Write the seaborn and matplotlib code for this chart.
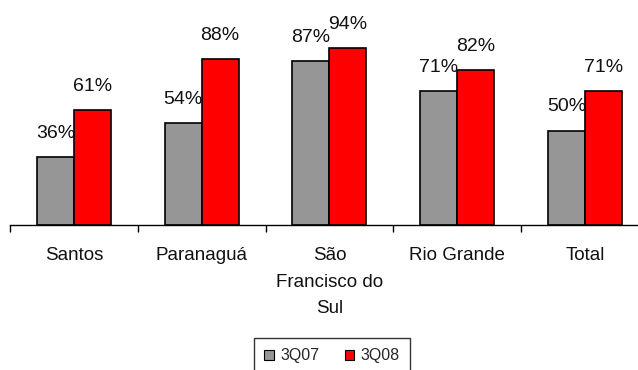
import matplotlib
matplotlib.use("Agg")
import matplotlib.pyplot as plt
import seaborn as sns
import pandas as pd
from matplotlib.ticker import FixedLocator

ports = ["Santos", "Paranaguá", "São\nFrancisco do\nSul", "Rio Grande", "Total"]
series_names = ["3Q07", "3Q08"]
vals_3q07 = [36, 54, 87, 71, 50]
vals_3q08 = [61, 88, 94, 82, 71]
colors = ["#969696", "#FF0000"]

df = pd.DataFrame({
    "port": ports * 2,
    "period": [series_names[0]] * len(ports) + [series_names[1]] * len(ports),
    "value": vals_3q07 + vals_3q08,
})

sns.set_style("white")
plt.rcParams["font.family"] = ["Liberation Sans", "DejaVu Sans"]

W, H = 638, 370
fig = plt.figure(figsize=(W / 100, H / 100), dpi=100)
axis_y = 225
group_w = 127.75
left_px = 10
ax = fig.add_axes([left_px / W, (H - axis_y) / H, 5 * group_w / W, axis_y / H])

sns.barplot(data=df, x="port", y="value", hue="period", order=ports,
            hue_order=series_names, palette=colors, width=0.58, gap=0,
            errorbar=None, edgecolor="black", linewidth=1.2, ax=ax,
            legend=True, saturation=1)

ax.set_xlim(-0.5, 4.5)
ax.set_ylim(0, axis_y / 1.885)
for c, vals in zip(ax.containers, [vals_3q07, vals_3q08]):
    ax.bar_label(c, labels=[f"{v}%" for v in vals], padding=11, fontsize=14,
                 color="#111111", clip_on=False)

for s in ["left", "right", "top"]:
    ax.spines[s].set_visible(False)
ax.spines["bottom"].set_color("black")
ax.spines["bottom"].set_linewidth(1.0)
ax.set_yticks([])
ax.set_xlabel("")
ax.set_ylabel("")
ax.xaxis.set_minor_locator(FixedLocator([-0.5, 0.5, 1.5, 2.5, 3.5, 4.5]))
ax.tick_params(axis="x", which="major", length=0, pad=16, labelsize=13.5,
               labelcolor="#111111")
ax.tick_params(axis="x", which="minor", length=5, width=1.0, color="black",
               direction="out", bottom=True)
for t in ax.get_xticklabels():
    t.set_linespacing(1.72)
    t.set_verticalalignment("top")

handles, labels = ax.get_legend_handles_labels()
ax.get_legend().remove()
leg = fig.legend(handles, labels, loc="upper center",
                 bbox_to_anchor=(332 / W, 1 - 338 / H), ncol=2, fontsize=11.5,
                 frameon=True, fancybox=False, edgecolor="black",
                 handlelength=0.6, handleheight=0.6, handletextpad=0.4,
                 columnspacing=1.6, borderpad=0.65, borderaxespad=0)
leg.get_frame().set_linewidth(1.0)
for h in leg.legend_handles:
    h.set_edgecolor("black")
    h.set_linewidth(0.8)

fig.savefig("out.png", dpi=100)
